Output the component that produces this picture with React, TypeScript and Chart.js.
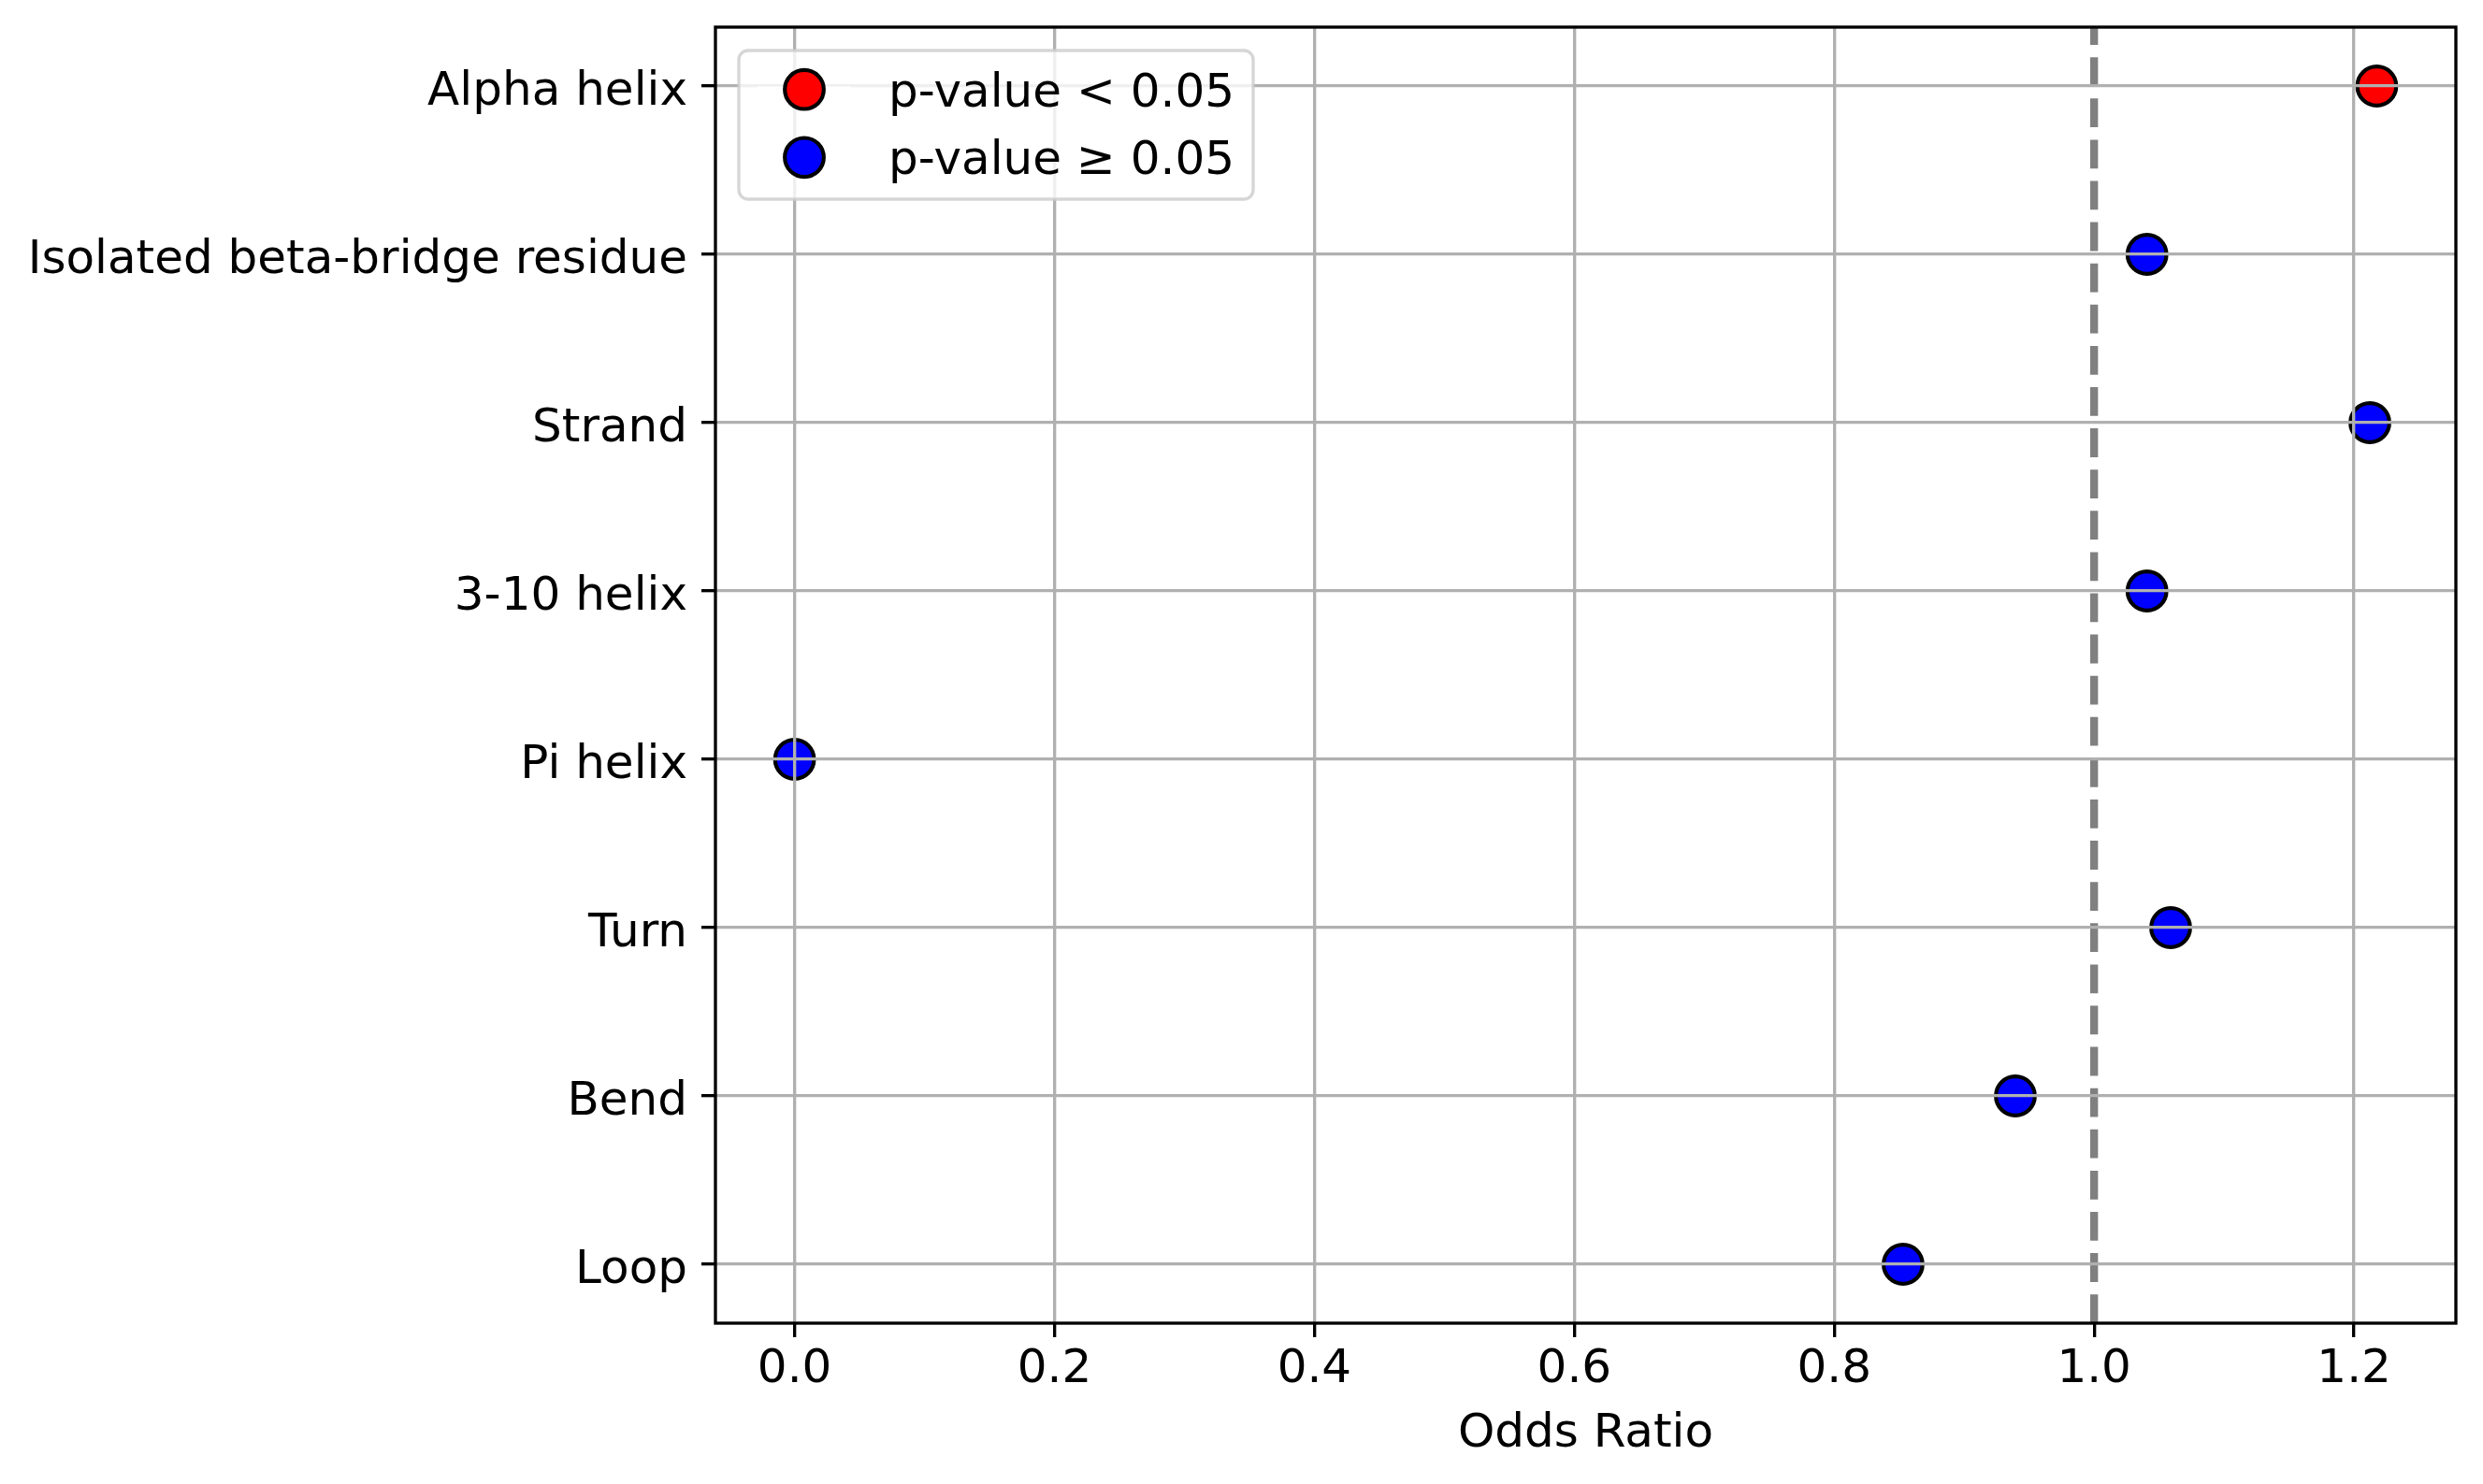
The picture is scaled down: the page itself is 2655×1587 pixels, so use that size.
import { Chart, registerables } from "chart.js";
import { useEffect, useRef } from "react";

Chart.register(...registerables);

// secondary structure categories, top to bottom
const categories = [
  "Alpha helix",
  "Isolated beta-bridge residue",
  "Strand",
  "3-10 helix",
  "Pi helix",
  "Turn",
  "Bend",
  "Loop",
];
const oddsRatios = [1.2175, 1.0407, 1.2122, 1.0407, 0.0, 1.0589, 0.9394, 0.853];
const significant = [true, false, false, false, false, false, false, false];

const groupLabels = ["p-value < 0.05", "p-value \u2265 0.05"];
const groupColors = ["#ff0000", "#0000ff"];
const xTickValues = [0, 0.2, 0.4, 0.6, 0.8, 1.0, 1.2];
const referenceOdds = 1.0;

const FONT = "'DejaVu Sans', sans-serif";
const W = 2655;
const H = 1587;
const GRID = "#b0b0b0";
const LW = 3.33; // 0.8pt @ 300dpi
const MARKER_R = 20.83;
const MARKER_EDGE = 4.17;

// matplotlib-style 5% margins
const loX = Math.min(...oddsRatios);
const hiX = Math.max(...oddsRatios);
const xMin = loX - 0.05 * (hiX - loX);
const xMax = hiX + 0.05 * (hiX - loX);
const yMin = -0.05 * (categories.length - 1);
const yMax = categories.length - 1 - yMin;

const framedLegend = {
  id: "framedLegend",
  afterDraw(chart: Chart) {
    const { ctx, chartArea } = chart;
    ctx.save();

    // axes frame
    ctx.strokeStyle = "#000";
    ctx.lineWidth = LW;
    ctx.strokeRect(
      chartArea.left,
      chartArea.top,
      chartArea.right - chartArea.left,
      chartArea.bottom - chartArea.top
    );

    // legend box (upper left)
    const x0 = chartArea.left + 25;
    const y0 = chartArea.top + 25;
    ctx.beginPath();
    ctx.roundRect(x0, y0, 550, 159, 10);
    ctx.fillStyle = "rgba(255,255,255,0.8)";
    ctx.fill();
    ctx.strokeStyle = "rgba(204,204,204,0.8)";
    ctx.lineWidth = LW;
    ctx.stroke();

    const items = chart.data.datasets.filter((d: any) => !d.showLine);
    items.forEach((ds: any, i: number) => {
      const cy = y0 + 41.7 + i * 72.6;
      // handle line (white, only shows over grid)
      ctx.beginPath();
      ctx.moveTo(x0 + 20, cy);
      ctx.lineTo(x0 + 120, cy);
      ctx.strokeStyle = "#fff";
      ctx.lineWidth = 6.25;
      ctx.stroke();

      ctx.beginPath();
      ctx.arc(x0 + 70, cy, MARKER_R, 0, Math.PI * 2);
      ctx.fillStyle = ds.pointBackgroundColor;
      ctx.fill();
      ctx.strokeStyle = "#000";
      ctx.lineWidth = MARKER_EDGE;
      ctx.stroke();

      ctx.fillStyle = "#000";
      ctx.font = `50px ${FONT}`;
      ctx.textAlign = "left";
      ctx.textBaseline = "alphabetic";
      ctx.fillText(ds.label, x0 + 160, cy + 18);
    });

    ctx.restore();
  },
};

export default function App() {
  const chartRef = useRef<HTMLCanvasElement | null>(null);
  const chartInstance = useRef<Chart | null>(null);

  useEffect(() => {
    if (!chartRef.current) return;
    const ctx = chartRef.current.getContext("2d");
    if (!ctx) return;
    if (chartInstance.current) chartInstance.current.destroy();

    const groupData = (flag: boolean) =>
      categories
        .map((_, i) => ({ x: oddsRatios[i], y: i, s: significant[i] }))
        .filter((p) => p.s === flag)
        .map(({ x, y }) => ({ x, y }));

    const pointSet = (idx: number, flag: boolean) => ({
      label: groupLabels[idx],
      data: groupData(flag),
      pointBackgroundColor: groupColors[idx],
      pointBorderColor: "#000",
      pointBorderWidth: MARKER_EDGE,
      pointRadius: MARKER_R,
      pointHoverRadius: MARKER_R,
      showLine: false,
    });

    chartInstance.current = new Chart(ctx, {
      type: "scatter",
      data: {
        datasets: [
          pointSet(0, true),
          pointSet(1, false),
          {
            label: "reference",
            data: [
              { x: referenceOdds, y: yMax },
              { x: referenceOdds, y: yMin },
            ],
            showLine: true,
            borderColor: "#808080",
            borderWidth: 8.33,
            borderDash: [30.8, 13.3],
            pointRadius: 0,
            fill: false,
          },
        ],
      },
      options: {
        animation: false,
        responsive: false,
        devicePixelRatio: 1,
        events: [],
        layout: { padding: { top: 29, right: 29, left: 0, bottom: 0 } },
        plugins: {
          legend: { display: false },
          tooltip: { enabled: false },
        },
        scales: {
          x: {
            type: "linear",
            min: xMin,
            max: xMax,
            afterBuildTicks: (s: any) => {
              s.ticks = xTickValues.map((v) => ({ value: v }));
            },
            afterFit: (s: any) => {
              s.height = 172;
              s.paddingLeft = 0;
              s.paddingRight = 0;
            },
            ticks: {
              callback: (v: any) => Number(v).toFixed(1),
              font: { size: 50, family: FONT },
              color: "#000",
              padding: 5,
              autoSkip: false,
              maxRotation: 0,
            },
            grid: {
              z: 1,
              color: (c: any) =>
                c.tick && c.tick.value === referenceOdds ? "rgba(0,0,0,0)" : GRID,
              lineWidth: LW,
              tickColor: "#000",
              tickWidth: LW,
              tickLength: 15,
            },
            border: { display: false },
            title: {
              display: true,
              text: "Odds Ratio",
              font: { size: 50, family: FONT },
              color: "#000",
              padding: { top: 0, bottom: 23 },
            },
          },
          y: {
            type: "linear",
            reverse: true,
            min: yMin,
            max: yMax,
            afterBuildTicks: (s: any) => {
              s.ticks = categories.map((_, i) => ({ value: i }));
            },
            afterFit: (s: any) => {
              s.width = 765;
              s.paddingTop = 0;
              s.paddingBottom = 0;
            },
            ticks: {
              callback: (v: any) => categories[Number(v)],
              font: { size: 50, family: FONT },
              color: "#000",
              padding: 15,
              labelOffset: 7,
              autoSkip: false,
            },
            grid: {
              z: 1,
              color: GRID,
              lineWidth: LW,
              tickColor: "#000",
              tickWidth: LW,
              tickLength: 15,
            },
            border: { display: false },
          },
        },
      },
      plugins: [framedLegend],
    } as any);

    return () => {
      if (chartInstance.current) {
        chartInstance.current.destroy();
        chartInstance.current = null;
      }
    };
  }, []);

  return (
    <div
      style={{
        position: "absolute",
        left: 0,
        top: 0,
        width: W,
        height: H,
        background: "#fff",
      }}
    >
      <canvas ref={chartRef} width={W} height={H}></canvas>
    </div>
  );
}
